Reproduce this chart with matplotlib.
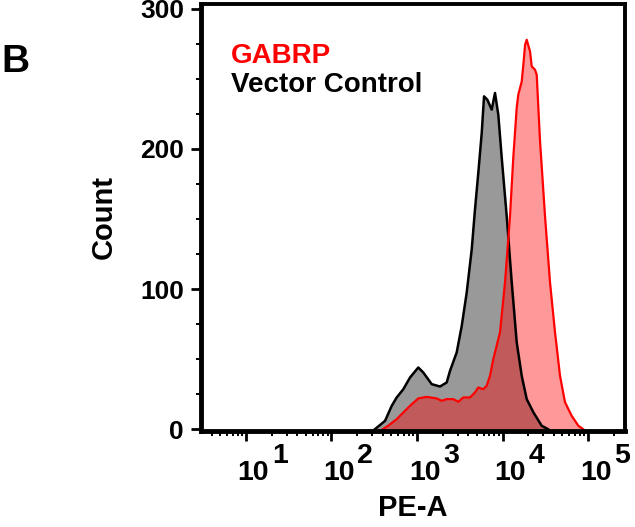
import matplotlib
matplotlib.use('Agg')
import matplotlib.pyplot as plt
from matplotlib.ticker import MultipleLocator, LogLocator, NullFormatter
from matplotlib.transforms import ScaledTranslation

plt.rcParams['font.family'] = ['Liberation Sans', 'DejaVu Sans']
plt.rcParams['font.weight'] = 'bold'
plt.rcParams['axes.labelweight'] = 'bold'

# histogram traces: PE-A value, cell count
vector_x = [323, 369, 423, 506, 579, 692, 828, 1035, 1185, 1486, 1858, 2224, 2432,
            2911, 3334, 3811, 4365, 4766, 5212, 5715, 6081, 6643, 7477, 8170, 8930,
            9790, 11200, 12820, 14660, 16780, 19200, 22920, 28700, 34000]
vector_y = [0, 2.9, 5.9, 16.6, 22.6, 28.5, 36.8, 44.0, 40.4, 32.1, 30.4, 33.3, 41.6,
            54.7, 73.6, 97.4, 128.3, 156.8, 183, 211.5, 237.6, 235.2, 228.1, 240, 224.5,
            193.9, 152, 104.8, 62, 38, 21.4, 12.1, 2.4, 0]

gabrp_x = [400, 461, 579, 692, 828, 1035, 1297, 1698, 1944, 2224, 2660, 3042, 3481,
           4169, 4766, 5212, 5960, 6530, 7140, 7800, 9350, 10700, 12240, 13370, 14660,
           15300, 16780, 17540, 18360, 19200, 20990, 21970, 24000, 25120, 26250, 27480,
           31420, 35940, 41120, 47070, 53830, 64420, 77070, 87500]
gabrp_y = [0, 2.4, 7.1, 11.9, 16.6, 21.9, 23.0, 21.9, 20.2, 21.4, 21.4, 19.5, 22.6,
           22.6, 26.2, 29.7, 28.5, 30.9, 38, 49.9, 69.1, 104.8, 152, 193.9, 229.5,
           238.8, 248.2, 260.2, 274.4, 278, 269.6, 259, 256.6, 253, 229.5, 205.5,
           152, 104.8, 69.1, 38, 19.2, 9.5, 2.4, 0]

x_ticks = [1e1, 1e2, 1e3, 1e4, 1e5]
x_exps = ['1', '2', '3', '4', '5']
y_ticks = [0, 100, 200, 300]

fig = plt.figure(figsize=(6.35, 5.27), dpi=100)
ax = fig.add_axes([0.3173, 0.1831, 0.6665, 0.8087])

ax.fill_between(vector_x, vector_y, color='#999999', lw=0)
ax.plot(vector_x, vector_y, color='black', lw=1.8)
ax.fill_between(gabrp_x, gabrp_y, color='red', alpha=0.4, lw=0)
ax.plot(gabrp_x, gabrp_y, color='red', lw=1.6)

ax.set_xscale('log')
ax.set_xlim(3.016, 268700)
ax.set_ylim(-1, 303.3)

ax.set_yticks(y_ticks)
ax.yaxis.set_minor_locator(MultipleLocator(25))
ax.set_xticks(x_ticks)
ax.set_xticklabels(['10'] * len(x_ticks))
ax.xaxis.set_minor_locator(LogLocator(base=10, subs=range(2, 10), numticks=20))
ax.xaxis.set_minor_formatter(NullFormatter())

ax.tick_params(axis='both', which='major', direction='out', length=7.2, width=2, color='black')
ax.tick_params(axis='both', which='minor', direction='out', length=3.5, width=1.4, color='black')
ax.tick_params(axis='y', labelsize=19, pad=5.5)
ax.tick_params(axis='x', labelsize=20.5, pad=14)

for side in ['left', 'bottom']:
    ax.spines[side].set_linewidth(3.5)
for side in ['top', 'right']:
    ax.spines[side].set_linewidth(2.8)

shift = ScaledTranslation(7.5 / 100, 0, fig.dpi_scale_trans)
for lab in ax.get_xticklabels():
    lab.set_transform(lab.get_transform() + shift)

for v, e in zip(x_ticks, x_exps):
    ax.annotate(e, xy=(v, 0), xycoords=('data', 'axes fraction'),
                xytext=(18.7, -23.4), textcoords='offset points',
                ha='left', va='baseline', fontsize=20.5, annotation_clip=False)

ax.set_xlabel('PE-A', fontsize=21, fontweight='bold', labelpad=6)
ax.set_ylabel('Count', fontsize=21, fontweight='bold', labelpad=16)

ax.text(0.070, 0.862, 'GABRP', color='red', fontsize=20, transform=ax.transAxes, va='baseline')
ax.text(0.070, 0.794, 'Vector Control', color='black', fontsize=20, transform=ax.transAxes, va='baseline')

fig.text(0.002, 1 - 72 / 527, 'B', fontsize=28, va='baseline')

fig.savefig('out.png', dpi=100)
